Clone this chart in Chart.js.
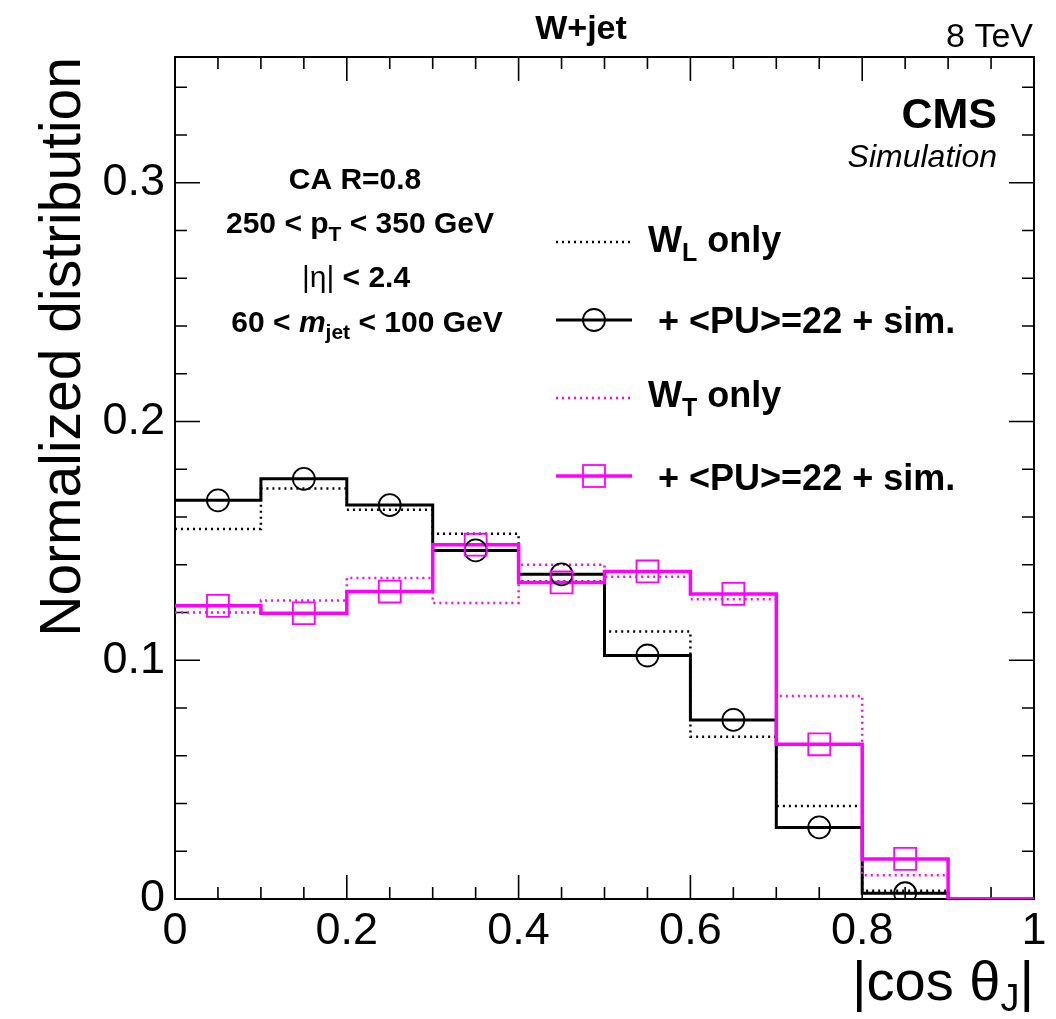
<!DOCTYPE html>
<html>
<head>
<meta charset="utf-8">
<script src="https://cdn.jsdelivr.net/npm/chart.js@4.4.0/dist/chart.umd.min.js"></script>
<style>
  html, body { margin: 0; padding: 0; background: #fff; }
  canvas { display: block; }
</style>
</head>
<body>
<canvas id="myChart" width="1056" height="1019"></canvas>
<script>
// bin edges of |cos theta_J| histogram
const binEdges = [0, 0.1, 0.2, 0.3, 0.4, 0.5, 0.6, 0.7, 0.8, 0.9, 1.0];

// normalized contents, one per bin
const wLOnly   = [0.155, 0.172, 0.163, 0.153, 0.133, 0.112, 0.068, 0.039, 0.0035, 0];
const wLPileup = [0.167, 0.176, 0.165, 0.146, 0.136, 0.102, 0.075, 0.030, 0.0024, 0];
const wTOnly   = [0.120, 0.125, 0.1345, 0.124, 0.140, 0.135, 0.1256, 0.085, 0.010, 0];
const wTPileup = [0.1228, 0.1197, 0.1288, 0.1484, 0.1326, 0.1372, 0.1278, 0.0648, 0.0168, 0];

const xTickLabels = ['0', '0.2', '0.4', '0.6', '0.8', '1'];
const yTickLabels = ['0', '0.1', '0.2', '0.3'];
const yMax = 0.3527;

const FONT = "'Liberation Sans', Arial, Helvetica, sans-serif";
const MAGENTA = '#ff00ff';

// histogram outline: value i is held from edge i to edge i+1
function stepPoints(vals) {
  const pts = vals.map((v, i) => ({ x: binEdges[i], y: v }));
  pts.push({ x: binEdges[vals.length], y: vals[vals.length - 1] });
  return pts;
}
// markers at bin centres, empty bins skipped
function markerPoints(vals) {
  return vals
    .map((v, i) => ({ x: (binEdges[i] + binEdges[i + 1]) / 2, y: v }))
    .filter(p => p.y > 0);
}

function drawRich(ctx, parts, x, y, align) {
  let total = 0;
  parts.forEach(p => { ctx.font = p.font; p.w = ctx.measureText(p.text).width; total += p.w; });
  let cx = align === 'center' ? x - total / 2 : (align === 'right' ? x - total : x);
  ctx.textAlign = 'left';
  ctx.textBaseline = 'alphabetic';
  parts.forEach(p => {
    ctx.font = p.font;
    ctx.fillText(p.text, cx, y + (p.dy || 0));
    cx += p.w;
  });
}

// frame + inside ticks on all four sides (ROOT style)
const framePlugin = {
  id: 'frame',
  beforeDatasetsDraw(chart) {
    const { ctx, chartArea: a, scales: { x, y } } = chart;
    ctx.save();
    ctx.strokeStyle = '#000';
    ctx.lineWidth = 1.6;
    ctx.beginPath();
    for (let i = 0; i <= 20; i++) {
      const px = x.getPixelForValue(i * 0.05);
      const len = i % 4 === 0 ? 24 : 12;
      ctx.moveTo(px, a.bottom); ctx.lineTo(px, a.bottom - len);
      ctx.moveTo(px, a.top); ctx.lineTo(px, a.top + len);
    }
    for (let i = 0; i * 0.02 <= yMax; i++) {
      const py = y.getPixelForValue(i * 0.02);
      const len = i % 5 === 0 ? 25 : 12;
      ctx.moveTo(a.left, py); ctx.lineTo(a.left + len, py);
      ctx.moveTo(a.right, py); ctx.lineTo(a.right - len, py);
    }
    ctx.stroke();
    ctx.lineWidth = 2;
    ctx.strokeRect(a.left, a.top, a.right - a.left, a.bottom - a.top);
    ctx.restore();
  }
};

const textPlugin = {
  id: 'texts',
  afterDraw(chart) {
    const { ctx, chartArea: a } = chart;
    ctx.save();
    ctx.fillStyle = '#000';

    // top labels
    drawRich(ctx, [{ text: 'W+jet', font: 'bold 34px ' + FONT }], 581, 39, 'center');
    drawRich(ctx, [{ text: '8 TeV', font: '34px ' + FONT }], 1033, 47, 'right');
    drawRich(ctx, [{ text: 'CMS', font: 'bold 43px ' + FONT }], 997, 128, 'right');
    drawRich(ctx, [{ text: 'Simulation', font: 'italic 32px ' + FONT }], 997, 167, 'right');

    // selection block
    const b = 'bold 30px ' + FONT, bs = 'bold 21px ' + FONT;
    drawRich(ctx, [{ text: 'CA R=0.8', font: b }], 355, 189, 'center');
    drawRich(ctx, [{ text: '250 < p', font: b }, { text: 'T', font: bs, dy: 8 }, { text: ' < 350 GeV', font: b }], 360, 233, 'center');
    drawRich(ctx, [{ text: '|\u03b7|', font: '30px ' + FONT }, { text: ' < 2.4', font: b }], 356, 287, 'center');
    drawRich(ctx, [{ text: '60 < ', font: b }, { text: 'm', font: 'italic bold 30px ' + FONT },
      { text: 'jet', font: bs, dy: 7 }, { text: ' < 100 GeV', font: b }], 367, 332, 'center');

    // legend
    const lf = 'bold 36px ' + FONT, ls = 'bold 25px ' + FONT;
    const x0 = 556, x1 = 632;
    ctx.lineCap = 'butt';
    // W_L only
    ctx.strokeStyle = '#000'; ctx.lineWidth = 2.5; ctx.setLineDash([2, 4]);
    ctx.beginPath(); ctx.moveTo(x0, 242); ctx.lineTo(x1, 242); ctx.stroke();
    drawRich(ctx, [{ text: 'W', font: lf }, { text: 'L', font: ls, dy: 9 }, { text: ' only', font: lf }], 648, 252, 'left');
    // W_L + PU
    ctx.setLineDash([]); ctx.lineWidth = 3;
    ctx.beginPath(); ctx.moveTo(x0, 320); ctx.lineTo(x1, 320); ctx.stroke();
    ctx.lineWidth = 1.8;
    ctx.beginPath(); ctx.arc(594, 320, 11, 0, Math.PI * 2); ctx.stroke();
    drawRich(ctx, [{ text: '+ <PU>=22 + sim.', font: lf }], 658, 333, 'left');
    // W_T only
    ctx.strokeStyle = MAGENTA; ctx.lineWidth = 2.5; ctx.setLineDash([2, 4]);
    ctx.beginPath(); ctx.moveTo(x0, 398); ctx.lineTo(x1, 398); ctx.stroke();
    drawRich(ctx, [{ text: 'W', font: lf }, { text: 'T', font: ls, dy: 9 }, { text: ' only', font: lf }], 648, 407, 'left');
    // W_T + PU
    ctx.setLineDash([]); ctx.lineWidth = 3.5;
    ctx.beginPath(); ctx.moveTo(x0, 476); ctx.lineTo(x1, 476); ctx.stroke();
    ctx.lineWidth = 1.8;
    ctx.strokeRect(583, 465, 22, 22);
    drawRich(ctx, [{ text: '+ <PU>=22 + sim.', font: lf }], 658, 490, 'left');

    // axis titles
    ctx.save();
    ctx.translate(80, a.top);
    ctx.rotate(-Math.PI / 2);
    ctx.font = '57px ' + FONT;
    ctx.textAlign = 'right';
    ctx.textBaseline = 'alphabetic';
    ctx.fillText('Normalized distribution', 0, 0);
    ctx.restore();
    drawRich(ctx, [{ text: '|cos \u03b8', font: '56px ' + FONT }, { text: 'J', font: '38px ' + FONT, dy: 11 },
      { text: '|', font: '56px ' + FONT }], 1034, 1000, 'right');
    ctx.restore();
  }
};

const ctx = document.getElementById('myChart').getContext('2d');
const chart = new Chart(ctx, {
  type: 'line',
  data: {
    datasets: [
      { label: 'W_T + <PU>=22 + sim. markers', data: markerPoints(wTPileup), showLine: false,
        pointStyle: 'rect', pointRadius: 15.5, pointBorderWidth: 1.8, pointBorderColor: MAGENTA,
        pointBackgroundColor: 'rgba(0,0,0,0)', borderColor: MAGENTA, order: 0 },
      { label: 'W_L + <PU>=22 + sim. markers', data: markerPoints(wLPileup), showLine: false,
        pointStyle: 'circle', pointRadius: 11, pointBorderWidth: 1.8, pointBorderColor: '#000',
        pointBackgroundColor: 'rgba(0,0,0,0)', borderColor: '#000', order: 0 },
      { label: 'W_T + <PU>=22 + sim.', data: stepPoints(wTPileup), stepped: true,
        borderColor: MAGENTA, borderWidth: 3.5, pointRadius: 0, order: 1 },
      { label: 'W_T only', data: stepPoints(wTOnly), stepped: true, borderDash: [2, 4],
        borderColor: MAGENTA, borderWidth: 2.5, pointRadius: 0, order: 2 },
      { label: 'W_L + <PU>=22 + sim.', data: stepPoints(wLPileup), stepped: true,
        borderColor: '#000', borderWidth: 3, pointRadius: 0, order: 3 },
      { label: 'W_L only', data: stepPoints(wLOnly), stepped: true, borderDash: [2, 4],
        borderColor: '#000', borderWidth: 2.5, pointRadius: 0, order: 4 }
    ]
  },
  options: {
    responsive: false,
    animation: false,
    events: [],
    layout: { padding: { top: 57, right: 22, left: 0, bottom: 0 } },
    plugins: { legend: { display: false }, tooltip: { enabled: false } },
    scales: {
      x: {
        type: 'linear', min: 0, max: 1,
        grid: { display: false, drawTicks: false },
        border: { display: false },
        afterBuildTicks: s => { s.ticks = xTickLabels.map(l => ({ value: Number(l) })); },
        afterFit: s => { s.height = 120; },
        ticks: { color: '#000', padding: 6, maxRotation: 0, autoSkip: false,
          font: { family: FONT, size: 45 },
          callback: (v, i) => xTickLabels[i] }
      },
      y: {
        type: 'linear', min: 0, max: yMax,
        grid: { display: false, drawTicks: false },
        border: { display: false },
        afterBuildTicks: s => { s.ticks = yTickLabels.map(l => ({ value: Number(l) })); },
        afterFit: s => { s.width = 175; },
        ticks: { color: '#000', padding: 10, autoSkip: false,
          font: { family: FONT, size: 45 },
          callback: (v, i) => yTickLabels[i] }
      }
    }
  },
  plugins: [framePlugin, textPlugin]
});
</script>
</body>
</html>
